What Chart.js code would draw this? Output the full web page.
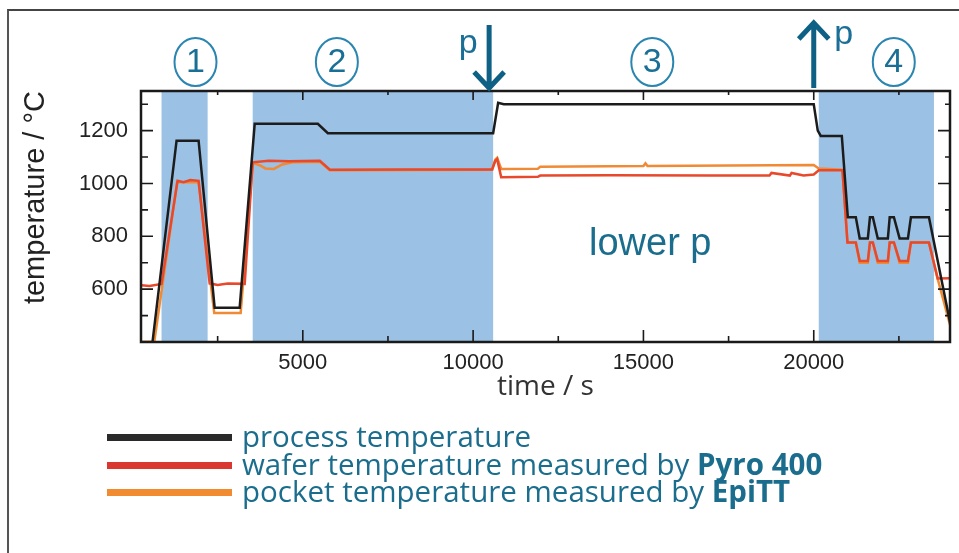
<!DOCTYPE html>
<html>
<head>
<meta charset="utf-8">
<script src="https://cdn.jsdelivr.net/npm/chart.js@4.4.0/dist/chart.umd.min.js"></script>
<style>
  html, body { margin: 0; padding: 0; background: #fff; }
  #wrap { position: relative; width: 959px; height: 553px; overflow: hidden; }
  #tempChart { position: absolute; left: 0; top: 0; }
  .frame { position: absolute; left: 7px; top: 9px; right: -10px; bottom: -10px;
           border-top: 2px solid #444; border-left: 2px solid #555; }
  .leg-line { position: absolute; left: 107px; width: 125px; height: 7px; }
  .leg-text { position: absolute; left: 242px; height: 30px; line-height: 30px; white-space: nowrap;
              font-family: 'Open Sans', 'Noto Sans', sans-serif; font-size: 29.5px; color: #1b6d8d; }
  .leg-text b { font-weight: 700; }
</style>
</head>
<body>
<div id="wrap">
  <div class="frame"></div>
  <canvas id="tempChart" width="959" height="553"></canvas>
  <div id="tempLegend"></div>
</div>
<script>
// time in s, temperature in °C
const processTime = [560, 1294, 1941, 2412, 3147, 3588, 5441, 5735, 10588, 10735, 10900, 20000, 20118, 20206, 20824, 21000, 21235, 21350, 21588, 21650, 21735, 21880, 22176, 22230, 22353, 22520, 22765, 22853, 23382, 24030];
const processTemp = [370, 1162, 1162, 530, 530, 1226, 1226, 1190, 1190, 1305, 1300, 1300, 1200, 1180, 1180, 872, 872, 792, 792, 872, 872, 792, 792, 872, 872, 792, 792, 872, 872, 456];

const waferTime = [265, 500, 853, 1323, 1500, 1700, 1941, 2265, 2500, 2800, 3294, 3529, 4000, 4600, 5500, 5794, 8000, 10558, 10650, 10706, 10824, 11900, 11970, 14000, 17000, 18700, 18760, 19300, 19350, 19700, 20000, 20147, 20843, 20990, 21235, 21350, 21588, 21650, 21735, 21880, 22176, 22230, 22353, 22520, 22765, 22853, 23382, 23637, 24030];
const waferTemp = [615, 612, 620, 1010, 1005, 1013, 1010, 622, 616, 621, 620, 1080, 1086, 1084, 1086, 1052, 1053, 1053, 1085, 1092, 1024, 1025, 1030, 1031, 1030, 1030, 1040, 1030, 1040, 1030, 1034, 1050, 1050, 777, 777, 707, 707, 777, 777, 707, 707, 777, 777, 707, 707, 777, 777, 640, 641];

const pocketTime = [265, 640, 1310, 1941, 2400, 3176, 3529, 3750, 3900, 4150, 4400, 4700, 5500, 5794, 10558, 10650, 10706, 10824, 11900, 11970, 15000, 15060, 15120, 20000, 20147, 20843, 20990, 21235, 21350, 21588, 21650, 21735, 21880, 22176, 22230, 22353, 22520, 22765, 22853, 23382, 23637, 24030];
const pocketTemp = [401, 401, 1005, 1005, 510, 510, 1078, 1068, 1057, 1055, 1072, 1080, 1082, 1050, 1052, 1090, 1097, 1055, 1056, 1063, 1066, 1076, 1066, 1070, 1057, 1052, 777, 777, 700, 700, 777, 777, 700, 700, 777, 777, 700, 700, 777, 777, 640, 450];

// shaded process phases
const phaseStart = [853, 3529, 20147];
const phaseEnd = [2206, 10588, 23529];
const phaseLabels = ['1', '2', '3', '4'];
const phaseLabelTime = [1850, 6000, 15260, 22350];
const pressureDownTime = 10470;
const pressureUpTime = 20000;
const lowerPTime = 15200;
const lowerPTemp = 770;

const xTickValues = [5000, 10000, 15000, 20000];
const yTickValues = [600, 800, 1000, 1200];

const SERIES = [
  { name: 'process temperature', bold: '', color: '#1c1c1c', legend: '#2a2a2a', time: processTime, temp: processTemp },
  { name: 'wafer temperature measured by ', bold: 'Pyro 400', color: '#e8482b', legend: '#d9372f', time: waferTime, temp: waferTemp },
  { name: 'pocket temperature measured by ', bold: 'EpiTT', color: '#f08a35', legend: '#f28b30', time: pocketTime, temp: pocketTemp },
];

const SHADE = '#9bc1e4';
const TEAL = '#1b6d8d';

const phaseShading = {
  id: 'phaseShading',
  beforeDatasetsDraw(chart) {
    const { ctx, chartArea: a, scales: { x } } = chart;
    ctx.save();
    ctx.beginPath();
    ctx.rect(a.left, a.top, a.width, a.height);
    ctx.clip();
    ctx.fillStyle = SHADE;
    phaseStart.forEach((s, i) => {
      const x0 = x.getPixelForValue(s);
      const x1 = x.getPixelForValue(phaseEnd[i]);
      ctx.fillRect(x0, a.top, x1 - x0, a.height);
    });
    ctx.restore();
  },
};

// inward ticks on all four sides + box
const frameTicks = {
  id: 'frameTicks',
  afterDatasetsDraw(chart) {
    const { ctx, chartArea: a, scales: { x, y } } = chart;
    ctx.save();
    ctx.strokeStyle = '#1a1a1a';
    ctx.lineWidth = 1.6;
    ctx.beginPath();
    for (let t = 2500; t < x.max; t += 2500) {
      if (t <= x.min) continue;
      const px = x.getPixelForValue(t);
      const major = t % 5000 === 0;
      ctx.moveTo(px, a.bottom); ctx.lineTo(px, a.bottom - (major ? 12 : 6));
      ctx.moveTo(px, a.top); ctx.lineTo(px, a.top + (major ? 9 : 4));
    }
    for (let v = 500; v < y.max; v += 100) {
      const py = y.getPixelForValue(v);
      const major = v % 200 === 0;
      ctx.moveTo(a.left, py); ctx.lineTo(a.left + (major ? 12 : 7), py);
      ctx.moveTo(a.right, py); ctx.lineTo(a.right - (major ? 12 : 5), py);
    }
    ctx.stroke();
    ctx.lineWidth = 2.5;
    ctx.strokeRect(a.left, a.top, a.width, a.height);
    ctx.restore();
  },
};

function drawArrow(ctx, px, yFrom, yTo) {
  const dir = yTo > yFrom ? 1 : -1;
  ctx.beginPath();
  ctx.moveTo(px, yFrom);
  ctx.lineTo(px, yTo);
  ctx.moveTo(px - 15, yTo - dir * 16);
  ctx.lineTo(px, yTo);
  ctx.lineTo(px + 15, yTo - dir * 16);
  ctx.stroke();
}

const annotations = {
  id: 'annotations',
  afterDraw(chart) {
    const { ctx, chartArea: a, scales: { x, y } } = chart;
    ctx.save();
    ctx.textAlign = 'center';
    ctx.textBaseline = 'middle';
    phaseLabelTime.forEach((t, i) => {
      const cx = x.getPixelForValue(t);
      ctx.beginPath();
      ctx.ellipse(cx, a.top - 29, 21, 24, 0, 0, Math.PI * 2);
      ctx.strokeStyle = '#2a85b0';
      ctx.lineWidth = 2;
      ctx.stroke();
      ctx.fillStyle = '#1a6f96';
      ctx.font = '34px "Liberation Sans", Arial, sans-serif';
      ctx.fillText(phaseLabels[i], cx, a.top - 28);
    });

    ctx.strokeStyle = '#0e6184';
    ctx.lineWidth = 5;
    ctx.lineJoin = 'miter';
    const xd = x.getPixelForValue(pressureDownTime);
    const xu = x.getPixelForValue(pressureUpTime);
    drawArrow(ctx, xd, a.top - 66, a.top - 3);
    drawArrow(ctx, xu, a.top - 3, a.top - 68);

    ctx.fillStyle = '#1a6f96';
    ctx.font = '34px "Liberation Sans", Arial, sans-serif';
    ctx.fillText('p', xd - 21, a.top - 47);
    ctx.fillText('p', xu + 30, a.top - 56);

    ctx.fillStyle = TEAL;
    ctx.font = '38px "Liberation Sans", Arial, sans-serif';
    ctx.fillText('lower p', x.getPixelForValue(lowerPTime), y.getPixelForValue(lowerPTemp));
    ctx.restore();
  },
};

function initTempChart() {
  const canvas = document.getElementById('tempChart');
  const legendEl = document.getElementById('tempLegend');

  new Chart(canvas, {
    type: 'line',
    data: {
      datasets: SERIES.map((s) => ({
        label: s.name + s.bold,
        data: s.time.map((t, i) => ({ x: t, y: s.temp[i] })),
        borderColor: s.color,
        borderWidth: 2.5,
        pointRadius: 0,
        tension: 0,
        fill: false,
      })),
    },
    options: {
      responsive: false,
      animation: false,
      layout: { padding: { top: 91, right: 9, left: 19, bottom: 149 } },
      plugins: { legend: { display: false }, tooltip: { enabled: false } },
      scales: {
        x: {
          type: 'linear',
          min: 250,
          max: 24000,
          grid: { display: false, drawTicks: false },
          border: { display: false },
          afterBuildTicks: (scale) => { scale.ticks = xTickValues.map((v) => ({ value: v })); },
          afterFit: (scale) => { scale.height = 62; },
          ticks: {
            padding: 8,
            color: '#222',
            maxRotation: 0,
            font: { family: '"Liberation Sans", Arial, sans-serif', size: 22 },
            callback: (v) => String(v),
          },
          title: {
            display: true,
            text: 'time / s',
            color: '#333',
            padding: 0,
            font: { family: '"Open Sans", "Noto Sans", sans-serif', size: 28 },
          },
        },
        y: {
          min: 400,
          max: 1350,
          grid: { display: false, drawTicks: false },
          border: { display: false },
          afterBuildTicks: (scale) => { scale.ticks = yTickValues.map((v) => ({ value: v })); },
          afterFit: (scale) => { scale.width = 122; },
          ticks: {
            padding: 13,
            color: '#222',
            font: { family: '"Liberation Sans", Arial, sans-serif', size: 22 },
            callback: (v) => String(v),
          },
          title: {
            display: true,
            text: 'temperature / °C',
            align: 'end',
            color: '#222',
            padding: 0,
            font: { family: '"Liberation Sans", Arial, sans-serif', size: 29 },
          },
        },
      },
    },
    plugins: [phaseShading, frameTicks, annotations],
  });

  // custom legend below the plot
  const legendY = [437, 465, 492];
  legendEl.innerHTML = SERIES.map((s, i) => `
    <div class="leg-line" style="top:${legendY[i] - 3.5}px;background:${s.legend}"></div>
    <div class="leg-text" style="top:${legendY[i] - 16}px">${s.name}${s.bold ? `<b>${s.bold}</b>` : ''}</div>`).join('');
}

initTempChart();
</script>
</body>
</html>
